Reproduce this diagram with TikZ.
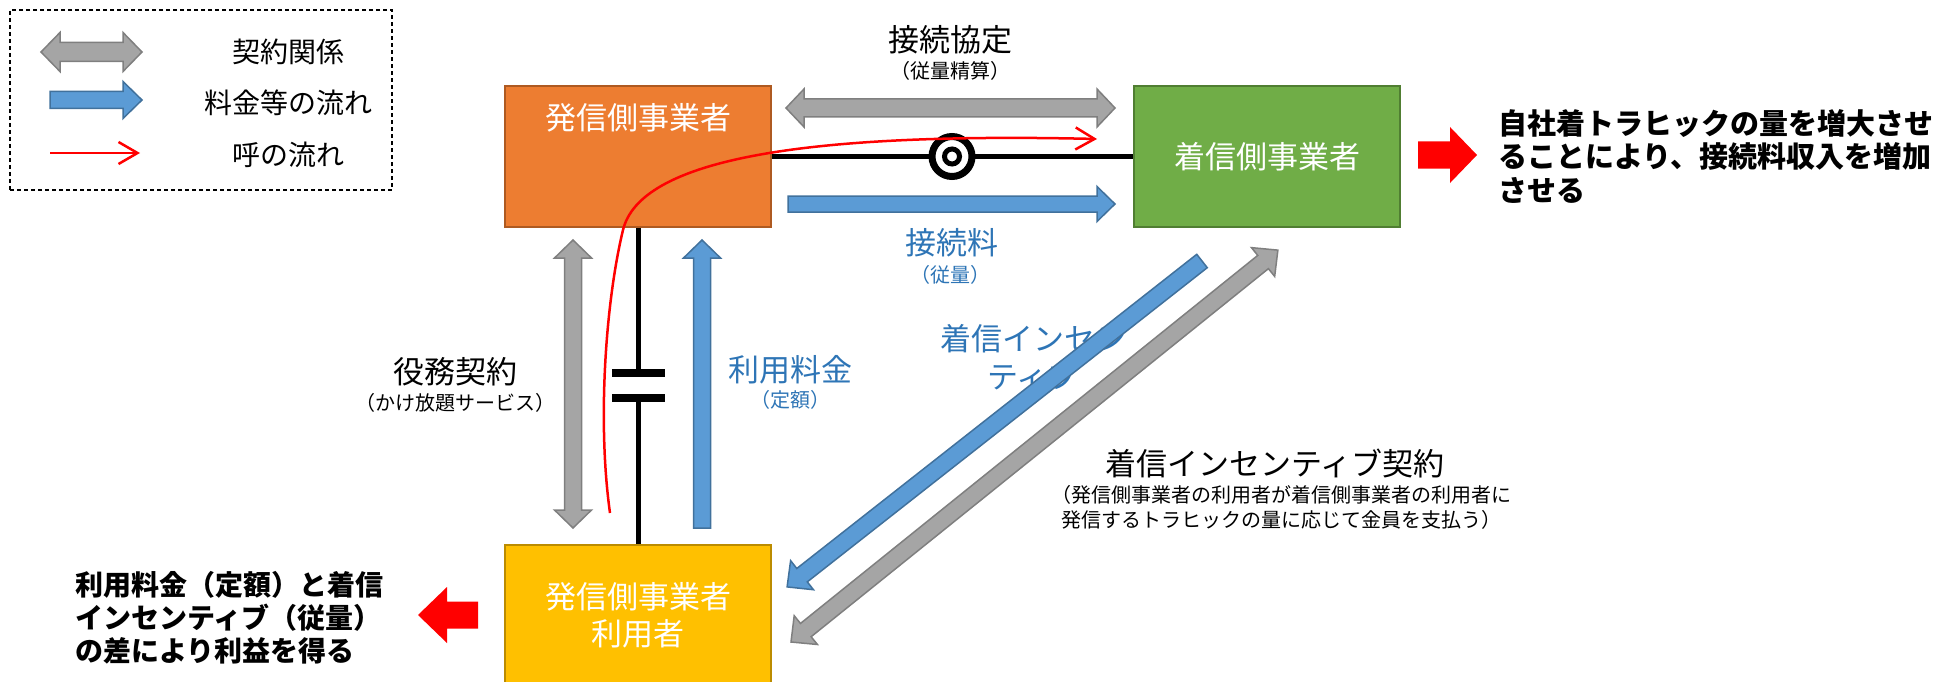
\documentclass[tikz,border=0pt]{standalone}
\usepackage{fontspec}
\setmainfont{Noto Sans CJK JP}
\usetikzlibrary{arrows.meta,calc}

\definecolor{boxorange}{HTML}{ED7D31}
\definecolor{boxorangeline}{HTML}{AE5A21}
\definecolor{boxgreen}{HTML}{70AD47}
\definecolor{boxgreenline}{HTML}{507E32}
\definecolor{boxyellow}{HTML}{FFC000}
\definecolor{boxyellowline}{HTML}{BC8C00}
\definecolor{arrgray}{HTML}{A5A5A5}
\definecolor{arrgrayline}{HTML}{7F7F7F}
\definecolor{arrblue}{HTML}{5B9BD5}
\definecolor{arrblueline}{HTML}{41719C}
\definecolor{txtblue}{HTML}{2E75B6}

\tikzset{
  bizbox/.style={draw, line width=1.5pt, minimum width=266pt, minimum height=141pt,
    inner sep=0pt, text=white, font=\fontsize{31}{37}\selectfont},
  toptext/.style={text height=27pt, text depth=80pt},
  legbox/.style={draw, line width=1.2pt, dash pattern=on 4pt off 3pt,
    minimum width=382pt, minimum height=180pt},
  legtext/.style={font=\fontsize{28}{34}\selectfont},
  bigtext/.style={font=\fontsize{31}{38}\selectfont},
  smalltext/.style={font=\fontsize{20}{25}\selectfont},
  boldtext/.style={align=left, inner sep=0pt, font=\fontsize{29}{33.5}\selectfont\bfseries},
  grayarr/.style={fill=arrgray, draw=arrgrayline, line width=1.5pt},
  bluearr/.style={fill=arrblue, draw=arrblueline, line width=1.5pt},
  fatred/.style={fill=red, draw=none},
  wire/.style={line width=5pt},
  capbar/.style={line width=8pt},
  poi/.style={circle, draw, line width=7pt, minimum size=40pt, fill=white, inner sep=0pt},
  callflow/.style={draw=red, line width=2.5pt, -{Straight Barb[length=19pt,width=22pt]}}
}

% #1 style, #2 from, #3 to, #4 half shaft, #5 half head, #6 head length
\newcommand{\blockarrow}[6]{%
  \path let \p1=(#2), \p2=(#3) in
    \pgfextra{\pgfmathsetmacro{\arrang}{atan2(\y2-\y1,\x2-\x1)}%
      \pgfmathsetmacro{\arrlen}{veclen(\x2-\x1,\y2-\y1)}%
      \global\let\arrang\arrang\global\let\arrlen\arrlen};
  \draw[#1, shift={(#2)}, rotate=\arrang]
    (0pt,-#4pt) -- (\arrlen pt-#6pt,-#4pt) -- (\arrlen pt-#6pt,-#5pt) -- (\arrlen pt,0pt)
    -- (\arrlen pt-#6pt,#5pt) -- (\arrlen pt-#6pt,#4pt) -- (0pt,#4pt) -- cycle;
}
\newcommand{\blockdarrow}[6]{%
  \path let \p1=(#2), \p2=(#3) in
    \pgfextra{\pgfmathsetmacro{\arrang}{atan2(\y2-\y1,\x2-\x1)}%
      \pgfmathsetmacro{\arrlen}{veclen(\x2-\x1,\y2-\y1)}%
      \global\let\arrang\arrang\global\let\arrlen\arrlen};
  \draw[#1, shift={(#2)}, rotate=\arrang]
    (0pt,0pt) -- (#6pt,-#5pt) -- (#6pt,-#4pt) -- (\arrlen pt-#6pt,-#4pt) -- (\arrlen pt-#6pt,-#5pt)
    -- (\arrlen pt,0pt) -- (\arrlen pt-#6pt,#5pt) -- (\arrlen pt-#6pt,#4pt) -- (#6pt,#4pt)
    -- (#6pt,#5pt) -- cycle;
}

\begin{document}
\begin{tikzpicture}[x=1pt, y=-1pt]
\useasboundingbox (0,0) rectangle (1954,682);

\node[legbox] (legend) at (201,100) {};
\coordinate (lk1) at (41,52);
\coordinate (lk2) at (142,52);
\coordinate (lf1) at (50,100);
\coordinate (lf2) at (142,100);
\coordinate (lc1) at (50,153);
\coordinate (lc2) at (140,153);
\blockdarrow{grayarr}{lk1}{lk2}{9.5}{19.5}{19}
\blockarrow{bluearr}{lf1}{lf2}{8.5}{18.5}{19}
\draw[callflow] (lc1) -- (lc2);
\node[legtext] (lt1) at (288,52) {契約関係};
\node[legtext] (lt2) at (288,103) {料金等の流れ};
\node[legtext] (lt3) at (288,155) {呼の流れ};

\node[bizbox, fill=boxorange, draw=boxorangeline, toptext] (orig) at (638,156.5) {発信側事業者};
\node[bizbox, fill=boxgreen, draw=boxgreenline] (term) at (1267,156.5) {着信側事業者};
\node[bizbox, fill=boxyellow, draw=boxyellowline, align=center] (user) at (638,615.5) {発信側事業者\\利用者};

\draw[wire] (orig.east) -- (term.west);
\node[poi] (poi) at (952,156.5) {};
\draw[line width=5pt] (poi.center) circle (7.5);

\coordinate (capa) at (638,373);
\coordinate (capb) at (638,398);
\draw[wire] (orig.south) -- (capa);
\draw[wire] (capb) -- (user.north);
\draw[capbar] ([xshift=-26pt]capa) -- ([xshift=27pt]capa);
\draw[capbar] ([xshift=-26pt]capb) -- ([xshift=27pt]capb);

\coordinate (ka) at (786,108);
\coordinate (kb) at (1115,108);
\blockdarrow{grayarr}{ka}{kb}{9}{19}{18}
\coordinate (fa) at (788,204);
\coordinate (fb) at (1115,204);
\blockarrow{bluearr}{fa}{fb}{8}{17.5}{18}
\coordinate (ya) at (573,528);
\coordinate (yb) at (573,240);
\blockdarrow{grayarr}{ya}{yb}{8.5}{18.5}{18}
\coordinate (ra) at (702,528);
\coordinate (rb) at (702,240);
\blockarrow{bluearr}{ra}{rb}{8.5}{18.5}{18}

\node[bigtext, text=txtblue, align=center] (inct) at (1033,358) {着信インセン\\ティブ};
\coordinate (ia) at (1202,261);
\coordinate (ib) at (787,587);
\blockarrow{bluearr}{ia}{ib}{8.5}{18.5}{19}
\coordinate (ic) at (791,642);
\coordinate (id) at (1278,250);
\blockdarrow{grayarr}{ic}{id}{8.5}{18.5}{19}

\coordinate (ga) at (1418,155);
\coordinate (gb) at (1477,155);
\blockarrow{fatred}{ga}{gb}{13.5}{28}{27}
\coordinate (pa) at (478,615);
\coordinate (pb) at (418,615);
\blockarrow{fatred}{pa}{pb}{13.5}{28}{29}

\coordinate (cs) at (610,513);
\coordinate (ce) at (1097,139);
\draw[callflow] (cs) .. controls (597,420) and (606,300) .. (623,230) .. controls (640,160) and (800,132) .. (ce);

\node[bigtext] (kt) at (950,40) {接続協定};
\node[smalltext] (kts) at (950,71) {（従量精算）};
\node[bigtext, text=txtblue] (ct) at (952,243) {接続料};
\node[smalltext, text=txtblue] (cts) at (950,275) {（従量）};
\node[bigtext] (et) at (455,372) {役務契約};
\node[smalltext] (ets) at (455,403) {（かけ放題サービス）};
\node[bigtext, text=txtblue] (rt) at (790,370) {利用料金};
\node[smalltext, text=txtblue] (rts) at (790,400) {（定額）};
\node[bigtext] (ict) at (1275,463) {着信インセンティブ契約};
\node[smalltext, align=center] (icts) at (1281,507) {（発信側事業者の利用者が着信側事業者の利用者に\\発信するトラヒックの量に応じて金員を支払う）};

\node[boldtext, anchor=west] (gain) at (1498,156.5) {自社着トラヒックの量を増大させ\\ることにより、接続料収入を増加\\させる};
\node[boldtext, anchor=west, font=\fontsize{28}{33}\selectfont\bfseries] (profit) at (75,618) {利用料金（定額）と着信\\インセンティブ（従量）\\の差により利益を得る};
\end{tikzpicture}
\end{document}
